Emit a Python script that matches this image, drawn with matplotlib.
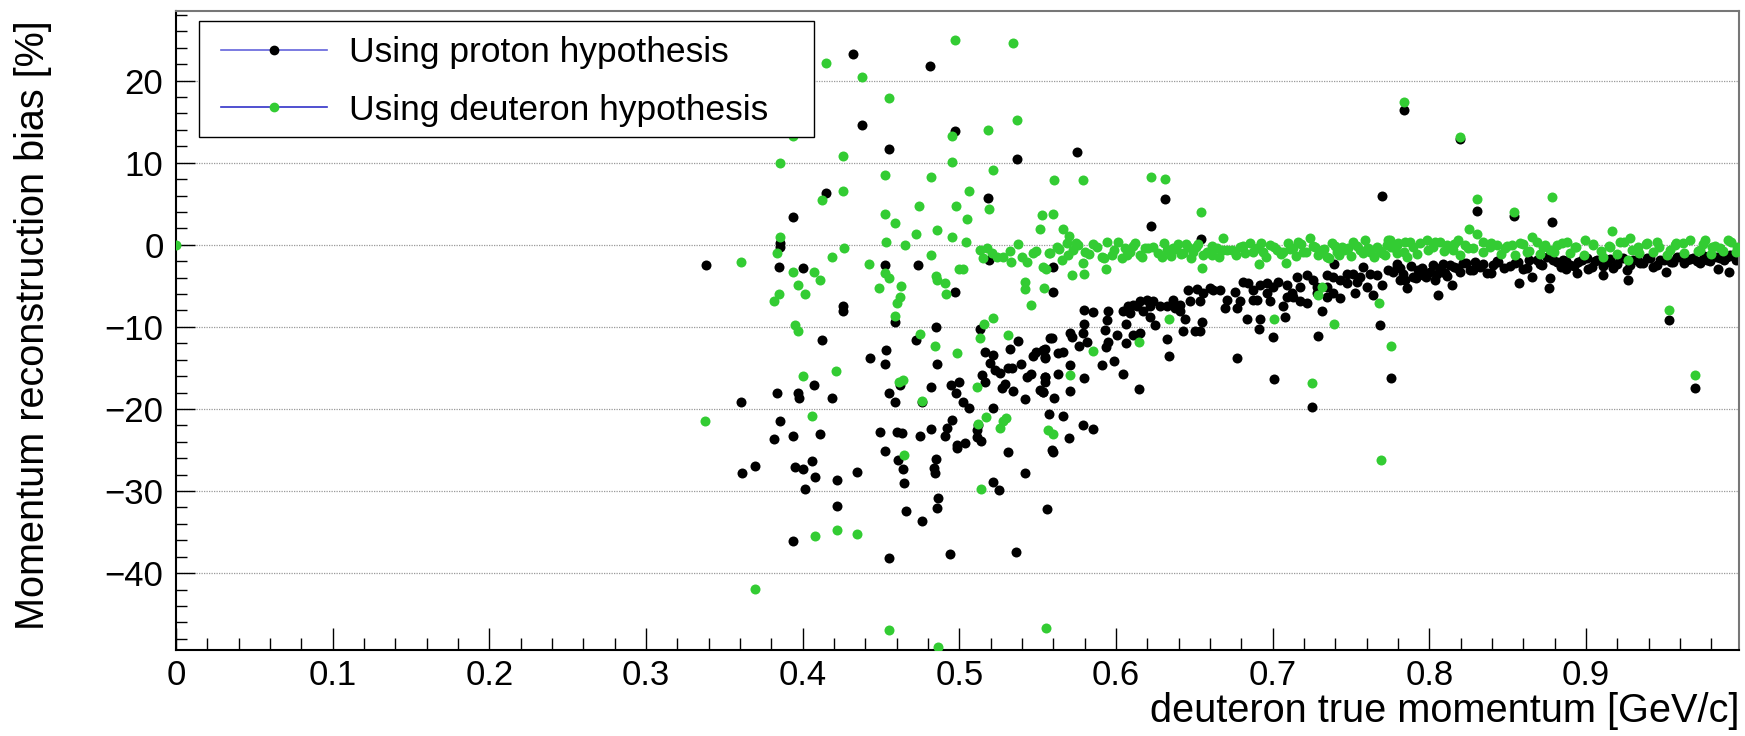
import matplotlib
matplotlib.use('Agg')
import matplotlib.pyplot as plt
from matplotlib.lines import Line2D
from matplotlib.patches import Rectangle
import numpy as np

plt.rcParams['font.family'] = ['Liberation Sans', 'DejaVu Sans']

# (true momentum [GeV/c], bias [%])
proton_pts = [
    # low momentum scatter
    (0.338, -2.5), (0.432, 23.3), (0.481, 21.8), (0.438, 14.6), (0.455, 11.7), (0.497, 13.9),
    (0.537, 10.5), (0.415, 6.3), (0.394, 3.4), (0.5185, 5.7), (0.3856, 0.2), (0.3856, -0.3),
    (0.385, -2.7), (0.400, -2.8), (0.4526, -2.5), (0.4738, -2.5), (0.497, -5.7), (0.4258, -7.4),
    (0.4258, -8.1), (0.519, -1.85), (0.5595, -2.7), (0.56, -5.7),
    (0.4588, -9.4), (0.485, -10.05), (0.513, -10.25), (0.412, -11.6), (0.4726, -11.6), (0.5377, -11.7),
    (0.453, -12.85), (0.4428, -13.75), (0.4526, -14.55), (0.486, -14.5), (0.532, -12.65),
    (0.5165, -13.1), (0.5217, -13.4), (0.5196, -14.4), (0.5228, -15.25), (0.526, -15.65), (0.5313, -15.0),
    (0.5335, -15.0), (0.5394, -14.55), (0.547, -13.6), (0.549, -13.0), (0.5547, -12.7), (0.5547, -13.7),
    (0.543, -16.1), (0.546, -15.8), (0.5547, -16.05), (0.5547, -16.7), (0.5143, -15.85), (0.5165, -16.7),
    (0.5292, -16.9), (0.527, -17.5), (0.5345, -17.8), (0.5515, -17.7), (0.5536, -17.9), (0.542, -18.8),
    (0.558, -11.4), (0.5, -16.7), (0.4947, -17.1), (0.4977, -18.1), (0.5026, -19.1), (0.506, -19.9),
    (0.5217, -19.9), (0.482, -17.3), (0.4553, -18.05), (0.4592, -19.15), (0.4618, -17.1), (0.4762, -19.2),
    (0.3607, -19.1), (0.3834, -18.0), (0.3969, -18.1), (0.3975, -18.65), (0.407, -17.1), (0.419, -18.7),
    (0.3854, -21.5), (0.3817, -23.6), (0.3937, -23.3), (0.411, -23.0), (0.3613, -27.8), (0.3696, -26.9),
    (0.395, -27.1), (0.4, -27.35), (0.4062, -26.3), (0.408, -28.3), (0.4013, -29.8), (0.422, -28.6),
    (0.4345, -27.7), (0.4218, -31.85), (0.3937, -36.1),
    (0.4496, -22.85), (0.46, -22.8), (0.4632, -22.95), (0.475, -23.3), (0.482, -22.5), (0.492, -22.35),
    (0.495, -21.4), (0.4909, -23.3), (0.4983, -24.4), (0.5038, -24.1), (0.4983, -24.8), (0.511, -22.55),
    (0.511, -23.4), (0.5138, -23.85), (0.5117, -21.95), (0.4526, -25.1), (0.461, -26.2), (0.4638, -27.3),
    (0.4645, -29.05), (0.4851, -26.15), (0.484, -27.15), (0.4845, -27.75), (0.4866, -30.9), (0.486, -32.1),
    (0.466, -32.4), (0.4762, -33.6), (0.455, -38.15), (0.4939, -37.7), (0.5362, -37.4), (0.5217, -28.9),
    (0.5255, -29.9), (0.5308, -25.3), (0.542, -27.8), (0.5557, -32.2), (0.5595, -25.3),
    # rising band 0.55 - 0.78
    (0.5536, -12.8), (0.5547, -13.8), (0.559, -11.4), (0.5632, -13.2), (0.566, -13.0), (0.5706, -10.8),
    (0.5717, -11.2), (0.5547, -16.1), (0.5536, -17.9), (0.5632, -15.7), (0.5706, -14.6), (0.5706, -17.8),
    (0.5604, -18.7), (0.5575, -20.6), (0.566, -20.9), (0.5792, -22.0), (0.5851, -22.5), (0.5702, -23.5),
    (0.559, -25.0), (0.5798, -8.0), (0.5855, -8.2), (0.5798, -9.6), (0.5787, -10.8), (0.5813, -11.8),
    (0.5766, -12.3), (0.5798, -16.2), (0.5908, -14.6), (0.5987, -14.2), (0.6047, -15.7), (0.6149, -17.6),
    (0.5951, -8.1), (0.594, -9.2), (0.593, -10.4), (0.5951, -11.8), (0.5936, -12.4), (0.6004, -11.0),
    (0.6064, -9.6), (0.6064, -12.0), (0.6047, -8.1), (0.6079, -7.5), (0.611, -7.3), (0.6153, -6.9),
    (0.6196, -6.7), (0.6238, -6.9), (0.6174, -8.1), (0.6217, -8.75), (0.6249, -9.8), (0.6281, -7.5),
    (0.6323, -7.5), (0.6366, -6.7), (0.6376, -7.7), (0.6408, -8.1), (0.644, -9.0), (0.6106, -11.0),
    (0.6153, -10.8), (0.6323, -11.5), (0.634, -13.5), (0.6425, -10.5), (0.6504, -10.5), (0.6536, -10.5),
    (0.6547, -9.4), (0.6472, -6.9), (0.6462, -5.5), (0.6515, -5.4), (0.6557, -5.9), (0.66, -5.3),
    (0.6664, -5.5), (0.6696, -7.7), (0.676, -5.7), (0.677, -7.7), (0.6791, -6.9), (0.6812, -4.5),
    (0.6844, -4.7), (0.6876, -5.5), (0.6919, -4.9), (0.6961, -4.7), (0.7004, -5.1), (0.6898, -6.7),
    (0.6983, -6.9), (0.7036, -4.5), (0.7089, -4.9), (0.7121, -5.9), (0.7153, -3.9), (0.7217, -3.7),
    (0.726, -4.3), (0.7344, -3.7), (0.7387, -3.9), (0.743, -4.3), (0.7472, -3.5), (0.7514, -3.5),
    (0.7557, -3.9), (0.7578, -2.7), (0.7621, -3.5), (0.7663, -3.7), (0.7738, -3.1), (0.7791, -2.7),
    (0.7812, -4.3), (0.7695, -4.9), (0.7642, -6.1), (0.7685, -9.8), (0.7525, -5.9), (0.743, -6.5),
    (0.7344, -6.3), (0.7281, -5.9), (0.7217, -7.1), (0.7174, -6.9), (0.7132, -6.3), (0.7068, -7.5),
    (0.7078, -8.8), (0.7004, -11.2), (0.6919, -9.1), (0.6915, -10.2), (0.6834, -9.1), (0.677, -13.8),
    (0.701, -16.4), (0.7291, -11.1), (0.7312, -8.1), (0.7248, -19.7), (0.7755, -16.2), (0.7387, -5.9),
    (0.7472, -4.7), (0.7536, -4.5), (0.76, -5.1), (0.7344, -5.1), (0.7281, -5.1), (0.7174, -5.1),
    (0.7089, -6.3), (0.6961, -5.9), (0.6876, -6.7), (0.6706, -6.7), (0.6621, -5.5), (0.6536, -6.9),
    (0.6408, -7.3), (0.6217, -7.5), (0.6132, -7.5), (0.609, -8.3),
    (0.5749, 11.3), (0.6313, 5.6), (0.6223, 2.3), (0.6542, 0.7), (0.7695, 6.0), (0.7391, -2.3),
    (0.784, 16.4), (0.8197, 12.9),
    # high momentum band
    (0.8306, 4.1), (0.854, 3.5), (0.8785, 2.8), (0.9531, -9.2), (0.9695, -17.4), (0.8057, -6.1),
    (0.8572, -4.7), (0.8764, -5.3), (0.927, -4.3), (0.911, -3.7), (0.951, -3.3), (0.984, -2.9),
    (0.9914, -3.3), (0.894, -3.4), (0.887, -3.0),
    (0.777, -3.27), (0.7813, -2.87), (0.7845, -4.29), (0.7855, -5.3), (0.7898, -3.88), (0.793, -3.07),
    (0.7962, -3.68), (0.8004, -3.27), (0.8036, -4.29), (0.8068, -2.87), (0.81, -3.48), (0.8132, -2.46),
    (0.8142, -4.9), (0.8174, -2.87), (0.8217, -2.26), (0.8259, -3.07), (0.8291, -2.06), (0.8323, -2.67),
    (0.8366, -3.48), (0.8408, -2.46), (0.844, -2.06), (0.8515, -2.58), (0.8568, -2.06), (0.8621, -2.87),
    (0.8653, -3.88), (0.8685, -1.85), (0.8717, -2.46), (0.8749, -1.45), (0.877, -4.1), (0.8813, -2.06),
    (0.8855, -1.85), (0.8898, -2.46), (0.8951, -2.06), (0.9004, -1.65), (0.9036, -2.67), (0.9068, -1.85),
    (0.9132, -2.06), (0.9174, -2.87), (0.9217, -1.65), (0.9259, -3.07), (0.9302, -1.85), (0.9344, -2.26),
    (0.9387, -1.65), (0.9429, -2.67), (0.9472, -1.85), (0.9514, -1.45), (0.9557, -2.06), (0.9599, -1.45),
    (0.9642, -1.85), (0.9685, -1.65), (0.9727, -2.26), (0.977, -1.85), (0.9812, -1.45), (0.9855, -1.65),
    (0.9897, -1.45), (0.994, -1.37), (0.9972, -1.65),
    (0.779, -2.4), (0.783, -3.6), (0.788, -2.6), (0.7915, -4.0), (0.795, -2.8), (0.798, -3.9),
    (0.802, -2.5), (0.805, -3.5), (0.8085, -2.3), (0.8115, -3.8), (0.8155, -2.7), (0.8195, -3.3),
    (0.8235, -2.2), (0.828, -3.1), (0.8345, -2.4), (0.839, -3.4), (0.843, -2.0), (0.8475, -2.8),
    (0.8545, -2.2), (0.8595, -3.0), (0.8635, -1.9), (0.8705, -2.4), (0.879, -1.8), (0.884, -2.7),
    (0.8875, -2.0), (0.8925, -2.6), (0.8975, -1.8), (0.9015, -2.9), (0.9055, -2.0), (0.9105, -2.6),
    (0.9155, -1.7), (0.9195, -2.3), (0.9235, -1.6), (0.928, -2.5), (0.9325, -1.9), (0.9365, -2.2),
    (0.941, -1.6), (0.945, -2.5), (0.9495, -1.8), (0.954, -2.1), (0.958, -1.5), (0.9625, -2.2),
    (0.9665, -1.7), (0.9705, -2.0), (0.975, -1.4), (0.979, -2.0), (0.9835, -1.5), (0.988, -1.9),
    (0.992, -1.3), (0.9955, -1.8),
]

deuteron_pts = [
    (0.0, 0.0),
    # low momentum scatter
    (0.497, 24.9), (0.534, 24.6), (0.415, 22.1), (0.438, 20.5), (0.455, 17.9), (0.537, 15.2),
    (0.518, 14.0), (0.4953, 13.25), (0.394, 13.3), (0.4258, 10.8), (0.3854, 10.0), (0.495, 10.1),
    (0.4526, 8.5), (0.482, 8.3), (0.5217, 9.1), (0.4258, 6.55), (0.412, 5.5), (0.5064, 6.6),
    (0.474, 4.7), (0.4977, 4.7), (0.4526, 3.7), (0.519, 4.4), (0.505, 3.2), (0.553, 3.6),
    (0.5515, 1.9), (0.4588, 2.6), (0.4726, 1.3), (0.486, 1.8), (0.495, 1.0), (0.504, 0.4),
    (0.453, 0.4), (0.465, 0.0), (0.5377, 0.06), (0.3858, 1.0), (0.3835, -1.0), (0.4264, -0.4),
    (0.419, -1.5), (0.3607, -2.1), (0.482, -1.2), (0.4426, -2.3), (0.3937, -3.3), (0.4073, -3.3),
    (0.411, -4.3), (0.3969, -4.9), (0.4015, -6.0), (0.385, -6.0), (0.3815, -6.9), (0.4526, -3.4),
    (0.455, -4.1), (0.449, -5.3), (0.463, -5.0), (0.462, -6.3), (0.4604, -7.1), (0.459, -8.7),
    (0.485, -3.8), (0.486, -4.3), (0.491, -4.65), (0.4913, -6.0), (0.5, -2.9), (0.502, -2.9),
    (0.395, -9.8), (0.516, -9.6), (0.5217, -8.95), (0.546, -7.3), (0.554, -5.3), (0.542, -4.5),
    (0.542, -5.4), (0.5535, -2.7), (0.5553, -2.9),
    (0.397, -10.45), (0.475, -10.9), (0.4845, -12.3), (0.4983, -13.2), (0.5134, -11.4), (0.5308, -11.0),
    (0.4, -16.0), (0.4215, -15.4), (0.4617, -16.75), (0.4638, -16.5), (0.476, -19.0), (0.511, -17.35),
    (0.517, -21.0), (0.5117, -21.8), (0.526, -22.35), (0.528, -21.5), (0.530, -21.05), (0.5568, -22.6),
    (0.5596, -23.0), (0.3377, -21.5), (0.406, -20.8), (0.4645, -25.6), (0.5138, -29.8), (0.408, -35.5),
    (0.422, -34.7), (0.4345, -35.2), (0.3696, -41.9), (0.455, -46.9), (0.4862, -49.0), (0.5553, -46.7),
    (0.5604, 7.9), (0.5787, 7.85), (0.6223, 8.2), (0.6315, 8.0), (0.654, 4.0), (0.56, 3.8),
    (0.566, 1.95), (0.5702, 1.1), (0.6685, 0.8), (0.7733, 0.6), (0.5717, -3.7), (0.5798, -3.6),
    (0.5792, -2.2), (0.5934, -3.0), (0.6547, -2.8), (0.6915, -2.3), (0.7085, -2.2), (0.7312, -5.1),
    (0.729, -6.1), (0.768, -7.1), (0.6338, -9.1), (0.7008, -9.1), (0.7391, -9.7), (0.6149, -11.8),
    (0.5851, -12.9), (0.7753, -12.3), (0.5706, -15.9), (0.7248, -16.8), (0.7694, -26.2),
    (0.784, 17.4), (0.8197, 13.1),
    (0.8306, 5.6), (0.854, 4.0), (0.8785, 5.8), (0.8255, 1.9), (0.8306, 1.3), (0.8657, 1.0),
    (0.9163, 1.7), (0.927, -1.9), (0.9531, -7.9), (0.9695, -15.9),
    # band around zero
    (0.513, -0.6), (0.5175, -0.4), (0.5153, -1.65), (0.5207, -1.0), (0.524, -1.45), (0.528, -1.45),
    (0.5323, -0.7), (0.533, -2.06), (0.54, -1.45), (0.543, -2.06), (0.547, -1.04), (0.549, -0.7),
    (0.557, -1.04),
    (0.5579, -1.04), (0.5621, -0.23), (0.5653, -1.85), (0.5685, 0.18), (0.5728, -0.63), (0.576, -0.03),
    (0.5802, -0.84), (0.5855, 0.1), (0.5908, -1.5), (0.594, 0.38), (0.5972, -1.24), (0.6036, -1.65),
    (0.6057, -0.43), (0.6089, -0.84), (0.6121, 0.18), (0.6153, -1.24), (0.6185, -0.43), (0.6238, -0.23),
    (0.6291, -1.45), (0.6323, -0.63), (0.6366, -0.43), (0.6398, 0.1), (0.643, -0.96), (0.6462, -0.23),
    (0.6493, -0.84), (0.6525, 0.1), (0.6579, -0.84), (0.6611, -1.24), (0.6642, -0.43), (0.6685, -0.63),
    (0.6738, -0.63), (0.6791, -0.23), (0.6823, -1.04), (0.6855, 0.18), (0.6898, -0.43), (0.694, -0.84),
    (0.6983, -0.03), (0.7025, -0.63), (0.7068, -0.84), (0.71, 0.18), (0.7132, -0.43), (0.7163, 0.38),
    (0.7195, -0.84), (0.7238, 0.79), (0.727, -0.23), (0.7312, -0.63), (0.7344, -1.45), (0.7376, 0.18),
    (0.7408, -0.84), (0.744, -0.23), (0.7482, -0.43), (0.7514, 0.38), (0.7557, -0.63), (0.7589, 0.58),
    (0.7621, -0.84), (0.7663, -0.23), (0.7695, -1.04), (0.7727, -0.03), (0.778, -0.43), (0.7802, 0.18),
    (0.5635, -0.5), (0.5695, -1.3), (0.5745, 0.2), (0.5825, -1.1), (0.588, -0.3), (0.5925, -1.6),
    (0.599, -0.6), (0.6015, 0.3), (0.607, -1.2), (0.6105, -0.2), (0.6165, -1.5), (0.6205, -0.4),
    (0.6265, -1.0), (0.6305, 0.2), (0.635, -1.4), (0.6385, -0.5), (0.6415, -1.1), (0.6445, 0.1),
    (0.648, -1.6), (0.651, -0.3), (0.6555, -1.2), (0.661, -0.1), (0.6655, -1.5), (0.6705, -0.6),
    (0.6765, -1.3), (0.681, -0.2), (0.6875, -0.9), (0.6925, 0.2), (0.696, -1.5), (0.7005, -0.3),
    (0.705, -1.1), (0.711, -0.5), (0.715, -1.4), (0.718, 0.1), (0.7215, -0.9), (0.7255, -0.2),
    (0.729, -1.3), (0.733, -0.5), (0.736, -1.6), (0.7395, -0.1), (0.7425, -1.2), (0.7455, -0.6),
    (0.75, -1.4), (0.7535, -0.2), (0.7575, -1.0), (0.761, -0.4), (0.7645, -1.5), (0.768, -0.6),
    (0.7715, -1.2), (0.7755, -0.3), (0.7795, -1.0),
    (0.7749, 0.58), (0.7792, -0.03), (0.7845, 0.38), (0.7855, -1.45), (0.7898, -0.23), (0.794, 0.18),
    (0.7983, 0.58), (0.8025, -0.23), (0.8068, 0.38), (0.8111, -0.03), (0.8153, -0.64), (0.8185, 0.58),
    (0.8228, -0.03), (0.8281, -0.43), (0.8345, 0.38), (0.8387, -0.23), (0.843, -0.03), (0.8483, -0.43),
    (0.8525, -0.03), (0.8578, 0.18), (0.8621, -0.84), (0.8685, 0.38), (0.8727, -0.23), (0.877, -0.64),
    (0.8813, -0.03), (0.8876, 0.38), (0.8929, -0.23), (0.8993, 0.58), (0.9046, -0.03), (0.911, -1.45),
    (0.9153, -0.23), (0.9217, 0.38), (0.928, 0.79), (0.9334, -0.23), (0.9387, 0.18), (0.9451, 0.38),
    (0.9514, -1.24), (0.9568, -0.03), (0.9621, 0.18), (0.9663, 0.58), (0.9727, -0.64), (0.9759, 0.58),
    (0.9802, -0.23), (0.9855, -0.43), (0.9908, 0.58), (0.9961, -0.23),
    (0.7835, -0.9), (0.7875, 0.3), (0.792, -1.1), (0.799, -0.6), (0.8035, 0.4), (0.8095, -0.8),
    (0.8155, 0.1), (0.8195, -1.2), (0.8245, -0.4), (0.8345, -0.9), (0.8395, 0.2), (0.8455, -1.1),
    (0.8495, -0.2), (0.8545, -1.2), (0.8595, 0.1), (0.8635, -0.7), (0.8705, -1.1), (0.8735, 0.0),
    (0.8795, -0.9), (0.8845, 0.2), (0.8895, -1.0), (0.8935, -0.3), (0.8985, -1.2), (0.9045, 0.1),
    (0.9095, -0.8), (0.9145, -0.2), (0.9195, -1.1), (0.9245, 0.3), (0.9295, -0.6), (0.9335, -1.0),
    (0.9385, 0.1), (0.9425, -0.9), (0.9465, -0.3), (0.9535, -0.6), (0.9575, 0.2), (0.9625, -1.0),
    (0.9715, -0.8), (0.9745, 0.1), (0.9795, -1.1), (0.9825, -0.2), (0.9875, -0.7), (0.9925, 0.3),
    (0.9955, -0.9),
]

x_ticks = [0, 0.1, 0.2, 0.3, 0.4, 0.5, 0.6, 0.7, 0.8, 0.9]
x_tick_labels = ['0', '0.1', '0.2', '0.3', '0.4', '0.5', '0.6', '0.7', '0.8', '0.9']
y_ticks = [-40, -30, -20, -10, 0, 10, 20]

p_x, p_y = np.array(proton_pts).T
d_x, d_y = np.array(deuteron_pts).T

green = '#33cc33'

fig = plt.figure(figsize=(17.45, 7.36), dpi=100)
ax = fig.add_axes([176 / 1745, 1 - 649.5 / 736, 1563 / 1745, 638.5 / 736])

ax.plot(p_x, p_y, 'o', color='black', ms=7.2, mec='none', ls='none', zorder=2)
ax.plot(d_x, d_y, 'o', color=green, ms=7.2, mec='none', ls='none', zorder=3)

ax.set_xlim(0, 0.9976)
ax.set_ylim(-49.3, 28.48)

ax.set_xticks(x_ticks)
ax.set_xticklabels(x_tick_labels)
ax.set_xticks(np.arange(0, 1.0, 0.02), minor=True)
ax.set_yticks(y_ticks)
ax.set_yticks(np.arange(-48, 29, 2), minor=True)

ax.tick_params(which='both', direction='in', top=False, right=False, labelsize=25, width=1)
ax.tick_params(axis='x', which='major', length=16, pad=7)
ax.tick_params(axis='x', which='minor', length=8.5)
ax.tick_params(axis='y', which='major', length=14, pad=9)
ax.tick_params(axis='y', which='minor', length=8)

ax.set_axisbelow(True)
ax.yaxis.grid(True, which='major', linestyle=(0, (1, 1)), color='#999999', linewidth=0.9)

for side in ['left', 'bottom']:
    ax.spines[side].set_linewidth(1.5)
    ax.spines[side].set_color('black')
for side in ['top', 'right']:
    ax.spines[side].set_linewidth(1.5)
    ax.spines[side].set_color('#777777')

# legend box (ROOT style, white filled, covers points)
ax.add_patch(Rectangle((0.0147, 0.803), 0.3935, 0.181, transform=ax.transAxes,
                       facecolor='white', edgecolor='black', linewidth=1.0, zorder=4))
handles = [
    Line2D([], [], color='#6464dc', lw=1.2, marker='o', ms=6, mfc='black', mec='black'),
    Line2D([], [], color='#3232c8', lw=1.2, marker='o', ms=6, mfc=green, mec=green),
]
leg = ax.legend(handles, ['Using proton hypothesis', 'Using deuteron hypothesis'],
                loc='upper left', bbox_to_anchor=(0.0288, 0.961), frameon=False,
                borderpad=0, borderaxespad=0, handlelength=3.0, handletextpad=0.6,
                labelspacing=0.7, fontsize=25.5, numpoints=1)
leg.set_zorder(5)

fig.text(0.019, 1 - 20 / 736, 'Momentum reconstruction bias [%]', rotation=90,
         ha='center', va='top', fontsize=28.5)
fig.text(0.9966, 1 - 711 / 736, 'deuteron true momentum [GeV/c]',
         ha='right', va='center', fontsize=28.6)

fig.savefig('out.png', dpi=100)
